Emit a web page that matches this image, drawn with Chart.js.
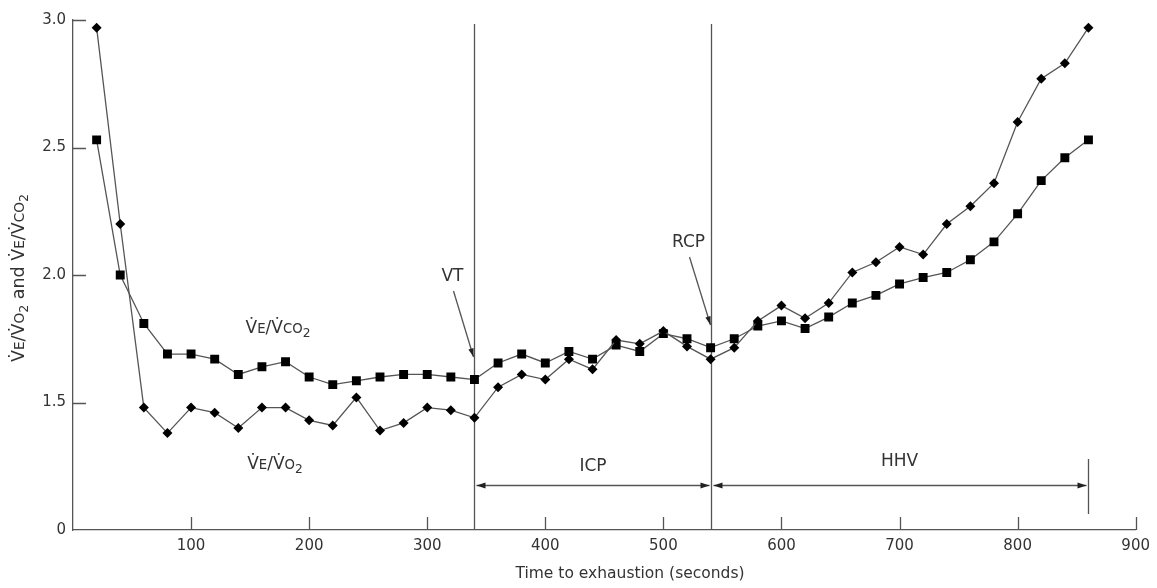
<!DOCTYPE html>
<html>
<head>
<meta charset="utf-8">
<style>
  html, body { margin: 0; padding: 0; background: #fff; }
  #wrap { width: 1157px; height: 588px; }
</style>
<script src="https://cdn.jsdelivr.net/npm/chart.js"></script>
</head>
<body>
<div id="wrap"><canvas id="chart" width="1157" height="588"></canvas></div>
<script>
// time points (s)
const times = [20, 40, 60, 80, 100, 120, 140, 160, 180, 200, 220, 240, 260, 280, 300,
  320, 340, 360, 380, 400, 420, 440, 460, 480, 500, 520, 540, 560, 580, 600,
  620, 640, 660, 680, 700, 720, 740, 760, 780, 800, 820, 840, 860];

// VE/VO2 (diamonds)
const veVo2 = [2.97, 2.20, 1.48, 1.38, 1.48, 1.46, 1.40, 1.48, 1.48, 1.43, 1.41, 1.52, 1.39, 1.42, 1.48,
  1.47, 1.44, 1.56, 1.61, 1.59, 1.67, 1.63, 1.745, 1.73, 1.78, 1.72, 1.67, 1.715, 1.82, 1.88,
  1.83, 1.89, 2.01, 2.05, 2.11, 2.08, 2.20, 2.27, 2.36, 2.60, 2.77, 2.83, 2.97];

// VE/VCO2 (squares)
const veVco2 = [2.53, 2.00, 1.81, 1.69, 1.69, 1.67, 1.61, 1.64, 1.66, 1.60, 1.57, 1.585, 1.60, 1.61, 1.61,
  1.60, 1.59, 1.655, 1.69, 1.655, 1.70, 1.67, 1.725, 1.70, 1.77, 1.75, 1.715, 1.75, 1.80, 1.82,
  1.79, 1.835, 1.89, 1.92, 1.965, 1.99, 2.01, 2.06, 2.13, 2.24, 2.37, 2.46, 2.53];

// phase markers (s)
const vtTime = 340;
const rcpTime = 540;
const endTime = 860;

// y axis is broken: the bottom (1.0) is labelled "0"
const yTicks = [1.0, 1.5, 2.0, 2.5, 3.0];
const yTickLabels = ["0", "1.5", "2.0", "2.5", "3.0"];
const xTicks = [100, 200, 300, 400, 500, 600, 700, 800, 900];

const FONT = "'DejaVu Sans', sans-serif";
const TEXT = '#333';
const LINE = '#555';

// draws "V̇E/V̇O2"-like text; parts: [text, scale, dy]
const drawParts = (ctx, parts, x, y, size, align) => {
  let total = 0;
  parts.forEach(p => {
    ctx.font = `${size * p[1]}px ${FONT}`;
    total += ctx.measureText(p[0]).width;
  });
  let cx = align === 'center' ? x - total / 2 : x;
  parts.forEach(p => {
    ctx.font = `${size * p[1]}px ${FONT}`;
    ctx.textAlign = 'left';
    ctx.textBaseline = 'alphabetic';
    ctx.fillText(p[0], cx, y + p[2] * size);
    cx += ctx.measureText(p[0]).width;
  });
};

const veVco2Parts = [['V\u0307', 1, 0], ['E', 0.78, 0], ['/', 1, 0], ['V\u0307', 1, 0], ['CO', 0.78, 0], ['2', 0.72, 0.22]];
const veVo2Parts = [['V\u0307', 1, 0], ['E', 0.78, 0], ['/', 1, 0], ['V\u0307', 1, 0], ['O', 0.78, 0], ['2', 0.72, 0.22]];
const yTitleParts = [
  ['V\u0307', 1, 0], ['E', 0.78, 0], ['/', 1, 0], ['V\u0307', 1, 0], ['O', 0.78, 0], ['2', 0.72, 0.22],
  [' and ', 1, 0],
  ['V\u0307', 1, 0], ['E', 0.78, 0], ['/', 1, 0], ['V\u0307', 1, 0], ['CO', 0.78, 0], ['2', 0.72, 0.22]
];

const arrowHead = (ctx, x, y, dir) => {
  // dir: 1 points right, -1 points left
  ctx.beginPath();
  ctx.moveTo(x, y);
  ctx.lineTo(x - dir * 9, y - 3);
  ctx.lineTo(x - dir * 9, y + 3);
  ctx.closePath();
  ctx.fill();
};

const slantArrow = (ctx, x1, y1, x2, y2) => {
  ctx.beginPath();
  ctx.moveTo(x1, y1);
  ctx.lineTo(x2, y2);
  ctx.stroke();
  const a = Math.atan2(y2 - y1, x2 - x1);
  ctx.beginPath();
  ctx.moveTo(x2, y2);
  ctx.lineTo(x2 - 9 * Math.cos(a - 0.3), y2 - 9 * Math.sin(a - 0.3));
  ctx.lineTo(x2 - 9 * Math.cos(a + 0.3), y2 - 9 * Math.sin(a + 0.3));
  ctx.closePath();
  ctx.fill();
};

const annotations = {
  id: 'annotations',
  beforeDatasetsDraw(chart) {
    const { ctx, scales: { x, y } } = chart;
    ctx.save();
    ctx.strokeStyle = LINE;
    ctx.fillStyle = '#222';
    ctx.lineWidth = 1.3;

    // inward tick marks
    ctx.beginPath();
    xTicks.forEach(t => {
      const px = Math.round(x.getPixelForValue(t)) + 0.5;
      ctx.moveTo(px, y.bottom);
      ctx.lineTo(px, y.bottom - 13);
    });
    yTicks.slice(1).forEach(t => {
      const py = Math.round(y.getPixelForValue(t)) + 0.5;
      ctx.moveTo(x.left, py);
      ctx.lineTo(x.left + 13, py);
    });
    ctx.stroke();

    // VT and RCP lines
    const vtX = Math.round(x.getPixelForValue(vtTime)) + 0.5;
    const rcpX = Math.round(x.getPixelForValue(rcpTime)) + 0.5;
    const endX = Math.round(x.getPixelForValue(endTime)) + 0.5;
    ctx.beginPath();
    ctx.moveTo(vtX, y.top + 4);
    ctx.lineTo(vtX, y.bottom);
    ctx.moveTo(rcpX, y.top + 4);
    ctx.lineTo(rcpX, y.bottom);
    ctx.moveTo(endX, 459);
    ctx.lineTo(endX, 514);
    ctx.stroke();

    // phase arrows
    const ay = 485.5;
    ctx.beginPath();
    ctx.moveTo(vtX + 2, ay);
    ctx.lineTo(rcpX - 2, ay);
    ctx.moveTo(rcpX + 2, ay);
    ctx.lineTo(endX - 2, ay);
    ctx.stroke();
    arrowHead(ctx, vtX + 2, ay, -1);
    arrowHead(ctx, rcpX - 2, ay, 1);
    arrowHead(ctx, rcpX + 2, ay, -1);
    arrowHead(ctx, endX - 2, ay, 1);

    // pointer arrows to VT / RCP
    slantArrow(ctx, vtX - 21, 291, vtX - 1, 357);
    slantArrow(ctx, rcpX - 22, 257, rcpX - 1, 325);

    // labels
    ctx.fillStyle = TEXT;
    ctx.textAlign = 'center';
    ctx.textBaseline = 'middle';
    ctx.font = `17px ${FONT}`;
    ctx.fillText('VT', vtX - 22, 277);
    ctx.fillText('RCP', rcpX - 23, 243);
    ctx.fillText('ICP', (vtX + rcpX) / 2, 467);
    ctx.fillText('HHV', x.getPixelForValue(700), 462);

    drawParts(ctx, veVco2Parts, 278, 333, 17, 'center');
    drawParts(ctx, veVo2Parts, 275, 469, 17, 'center');

    // axis titles
    ctx.font = `15.5px ${FONT}`;
    ctx.textAlign = 'center';
    ctx.fillText('Time to exhaustion (seconds)', 630, 578);
    ctx.translate(24, 278);
    ctx.rotate(-Math.PI / 2);
    drawParts(ctx, yTitleParts, 0, 0, 17.5, 'center');
    ctx.restore();
  }
};

new Chart(document.getElementById('chart'), {
  type: 'line',
  data: {
    labels: times,
    datasets: [
      {
        label: 'VE/VO2',
        data: times.map((t, i) => ({ x: t, y: veVo2[i] })),
        borderColor: LINE,
        borderWidth: 1.3,
        pointStyle: 'rectRot',
        pointRadius: 5,
        pointBackgroundColor: '#000',
        pointBorderColor: '#000',
        pointBorderWidth: 0,
        tension: 0,
      },
      {
        label: 'VE/VCO2',
        data: times.map((t, i) => ({ x: t, y: veVco2[i] })),
        borderColor: LINE,
        borderWidth: 1.3,
        pointStyle: 'rect',
        pointRadius: 6.3,
        pointBackgroundColor: '#000',
        pointBorderColor: '#000',
        pointBorderWidth: 0,
        tension: 0,
      },
    ],
  },
  options: {
    responsive: false,
    animation: false,
    layout: { padding: { top: 20, right: 20, left: 0, bottom: 0 } },
    plugins: {
      legend: { display: false },
      tooltip: { enabled: false },
    },
    scales: {
      x: {
        type: 'linear',
        min: 0,
        max: 900,
        grid: { display: false, drawTicks: false },
        border: { display: true, color: LINE, width: 1.3 },
        afterFit: (scale) => { scale.height = 58; },
        afterBuildTicks: (scale) => { scale.ticks = xTicks.map(v => ({ value: v })); },
        ticks: {
          padding: 7,
          color: TEXT,
          font: { family: FONT, size: 15 },
          maxRotation: 0,
        },
      },
      y: {
        type: 'linear',
        min: 1.0,
        max: 3.0,
        grid: { display: false, drawTicks: false },
        border: { display: true, color: LINE, width: 1.3 },
        afterFit: (scale) => { scale.width = 73; },
        afterBuildTicks: (scale) => { scale.ticks = yTicks.map(v => ({ value: v })); },
        ticks: {
          padding: 7,
          color: TEXT,
          font: { family: FONT, size: 15 },
          callback: (value) => yTickLabels[yTicks.indexOf(value)],
        },
      },
    },
  },
  plugins: [annotations],
});
</script>
</body>
</html>
